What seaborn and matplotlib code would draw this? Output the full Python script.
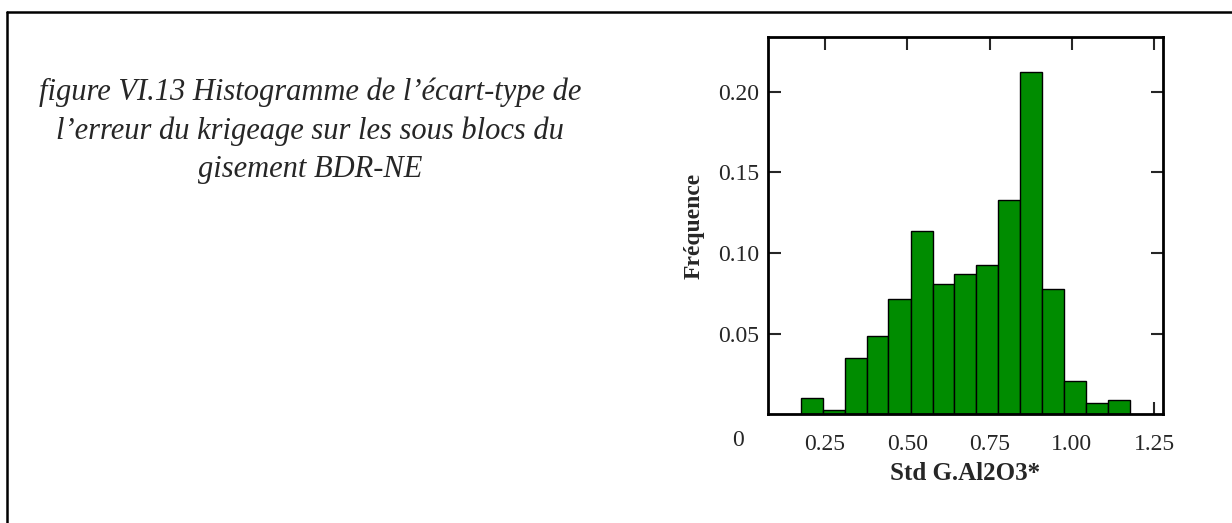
import numpy as np
import pandas as pd
import matplotlib
matplotlib.use("Agg")
import matplotlib.pyplot as plt
import seaborn as sns
from matplotlib.lines import Line2D

# bin edges (width about 1/15)
bin_edges = [0.177, 0.244, 0.310, 0.377, 0.443, 0.510, 0.577, 0.643,
             0.710, 0.776, 0.843, 0.910, 0.977, 1.044, 1.110, 1.177]
# relative frequency of each bin
frequence = [0.0100, 0.0025, 0.0348, 0.0484, 0.0713, 0.1138, 0.0806, 0.0868,
             0.0928, 0.1327, 0.2124, 0.0779, 0.0205, 0.0071, 0.0091]
x_ticks = [0.25, 0.50, 0.75, 1.00, 1.25]
x_tick_labels = ["0.25", "0.50", "0.75", "1.00", "1.25"]
y_ticks = [0.05, 0.10, 0.15, 0.20]
y_tick_labels = ["0.05", "0.10", "0.15", "0.20"]

caption = ("figure VI.13 Histogramme de l\u2019\u00e9cart-type de\n"
           "l\u2019erreur du krigeage sur les sous blocs du\n"
           "gisement BDR-NE")

sns.set_style("white")
plt.rcParams['font.family'] = ['Liberation Serif', 'DejaVu Serif']

centres = [(a + b) / 2 for a, b in zip(bin_edges[:-1], bin_edges[1:])]
df = pd.DataFrame({'std': centres, 'freq': frequence})

fig = plt.figure(figsize=(12.32, 5.23), dpi=100)
ax = fig.add_axes([0.6231, 0.2076, 0.3206, 0.7211])

sns.histplot(data=df, x='std', weights='freq', bins=bin_edges, stat='count',
             color='#008C00', edgecolor='black', linewidth=1.0, alpha=1.0, ax=ax)

ax.set_xlim(0.076, 1.276)
ax.set_ylim(0, 0.2337)
ax.set_xticks(x_ticks)
ax.set_xticklabels(x_tick_labels)
ax.set_yticks(y_ticks)
ax.set_yticklabels(y_tick_labels)
ax.tick_params(direction='in', length=9, width=1.5, labelsize=17,
               top=True, right=True, bottom=True, left=True)
ax.tick_params(axis='x', pad=14)
ax.tick_params(axis='y', pad=6)
# bottom ticks only show at 1.25 in the original
for t in ax.xaxis.get_major_ticks()[:-1]:
    t.tick1line.set_visible(False)

for s in ax.spines.values():
    s.set_linewidth(2)
    s.set_color('black')

ax.set_xlabel("Std G.Al2O3*", fontsize=18, fontweight='bold', labelpad=5)
ax.set_ylabel("Fr\u00e9quence", fontsize=17, fontweight='bold', labelpad=10)

# lone zero label at lower left
fig.text(738 / 1232, 1 - 441 / 523, "0", fontsize=17, ha='center', va='center')

fig.text(310 / 1232, 1 - 131 / 523, caption, fontsize=22, style='italic',
         ha='center', va='center', linespacing=1.41)

# page frame (top and left edges)
fig.add_artist(Line2D([7 / 1232, 1.0], [1 - 12 / 523, 1 - 12 / 523],
                      transform=fig.transFigure, color='black', lw=1.8))
fig.add_artist(Line2D([7 / 1232, 7 / 1232], [0.0, 1 - 12 / 523],
                      transform=fig.transFigure, color='black', lw=1.8))

fig.savefig("out.png", dpi=100)
